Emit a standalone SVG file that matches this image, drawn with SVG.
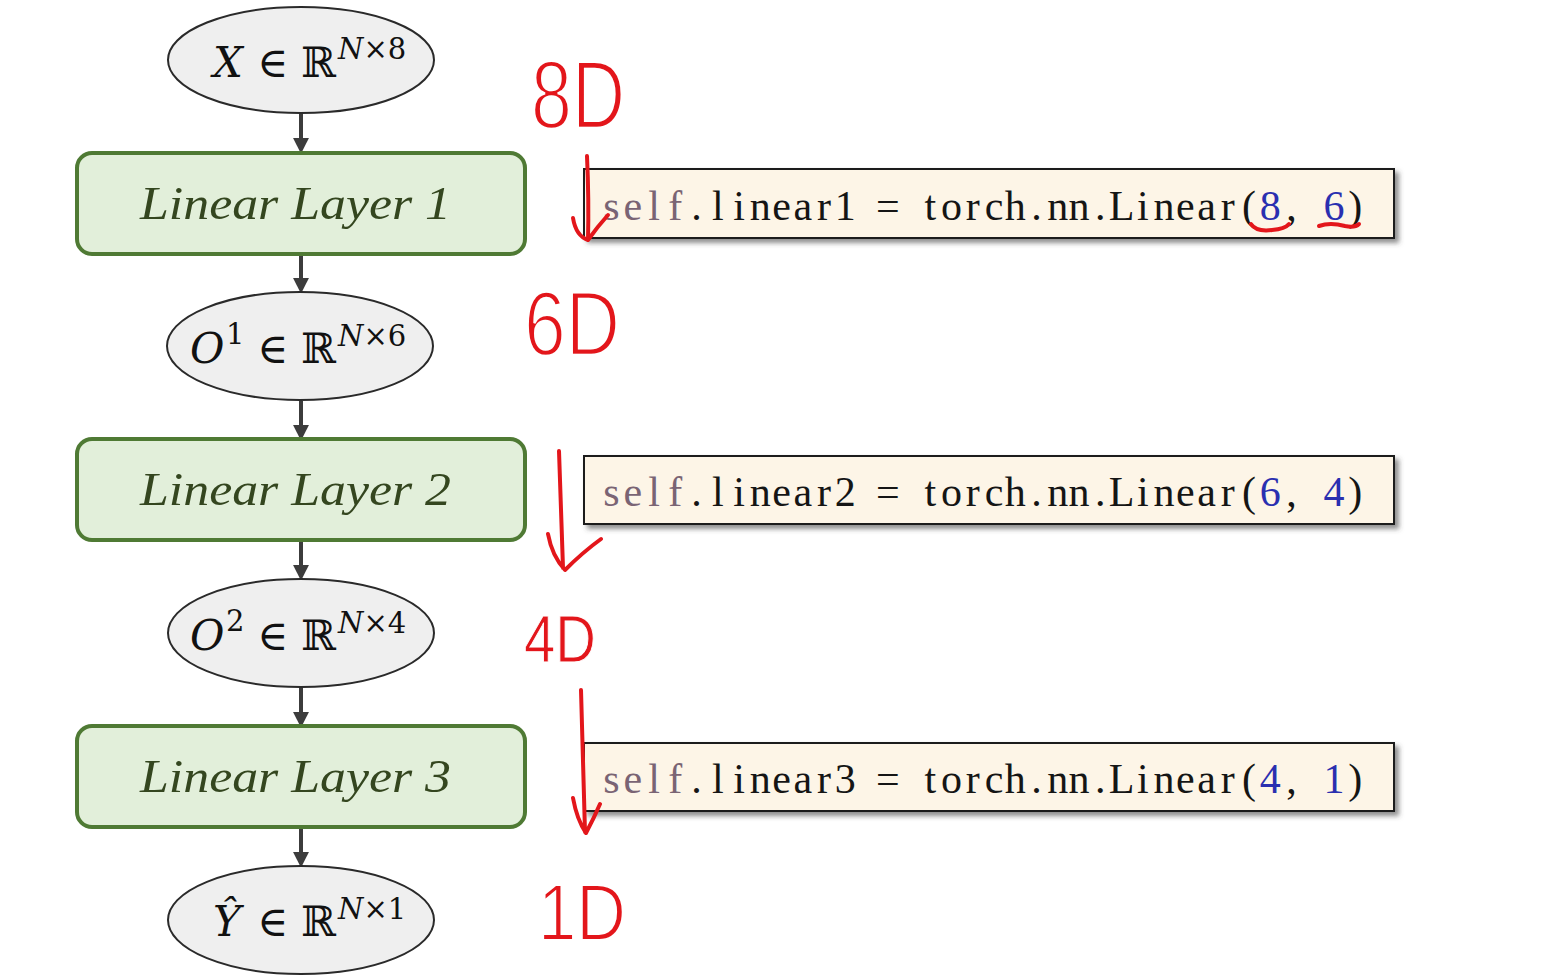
<svg xmlns="http://www.w3.org/2000/svg" width="1557" height="977" viewBox="0 0 1557 977">
<defs>
<style>
.ell{fill:#efefef;stroke:#2a2a2a;stroke-width:2}
.lay{fill:#e2efda;stroke:#4f7a34;stroke-width:4}
.layt{font-family:"Liberation Serif",serif;font-style:italic;font-size:46px;fill:#34461f}
.math{font-family:"DejaVu Serif",serif;font-size:42px;fill:#111}
.it{font-style:italic}
.sup{font-family:"DejaVu Serif",serif;font-size:29px;fill:#111}
.code{fill:#fdf5e7;stroke:#1e1e1e;stroke-width:2}
.ct{font-family:"Liberation Serif",serif;font-size:42px;fill:#151515;text-anchor:middle}
.slf{fill:#7a6474}
.num{fill:#2a2fb0}
.conn{stroke:#3c3c3c;stroke-width:4;fill:none}
.red{fill:#e3161b;stroke:#ffffff;font-family:"Liberation Sans",sans-serif}
.rs{stroke:#e3161b;stroke-width:4;fill:none;stroke-linecap:round;stroke-linejoin:round}
</style>
<marker id="ah" markerUnits="userSpaceOnUse" markerWidth="16" markerHeight="16" viewBox="0 0 14 14" refX="1" refY="7" orient="auto">
<path d="M0,0 L14,7 L0,14 z" fill="#3c3c3c"/>
</marker>
<filter id="sh" x="-5%" y="-20%" width="110%" height="150%">
<feDropShadow dx="4" dy="4" stdDeviation="2.5" flood-color="#444" flood-opacity="0.6"/>
</filter>
</defs>
<rect width="1557" height="977" fill="#ffffff"/>

<g id="connectors">
<line class="conn" x1="301" y1="113" x2="301" y2="139" marker-end="url(#ah)"/>
<line class="conn" x1="301" y1="254" x2="301" y2="279" marker-end="url(#ah)"/>
<line class="conn" x1="301" y1="401" x2="301" y2="426" marker-end="url(#ah)"/>
<line class="conn" x1="301" y1="540" x2="301" y2="566" marker-end="url(#ah)"/>
<line class="conn" x1="301" y1="688" x2="301" y2="713" marker-end="url(#ah)"/>
<line class="conn" x1="301" y1="827" x2="301" y2="853" marker-end="url(#ah)"/>
</g>

<g id="x">
<ellipse class="ell" cx="301" cy="60" rx="133" ry="53"/>
<text class="math it" x="213" y="77">X</text>
<text class="math" x="257" y="77">∈</text>
<text class="math" x="301" y="77">ℝ</text>
<text class="sup" x="338" y="59"><tspan class="it">N</tspan>×8</text>
</g>

<g id="layer1">
<rect class="lay" x="77" y="153" width="448" height="101" rx="15"/>
<text class="layt" x="140" y="219" textLength="311" lengthAdjust="spacingAndGlyphs">Linear Layer 1</text>
</g>

<g id="o1">
<ellipse class="ell" cx="300" cy="346" rx="133" ry="54"/>
<text class="math it" x="190" y="363">O</text>
<text class="sup" x="226" y="344">1</text>
<text class="math" x="257" y="363">∈</text>
<text class="math" x="301" y="363">ℝ</text>
<text class="sup" x="338" y="346"><tspan class="it">N</tspan>×6</text>
</g>

<g id="layer2">
<rect class="lay" x="77" y="439" width="448" height="101" rx="15"/>
<text class="layt" x="140" y="505" textLength="311" lengthAdjust="spacingAndGlyphs">Linear Layer 2</text>
</g>

<g id="o2">
<ellipse class="ell" cx="301" cy="633" rx="133" ry="54"/>
<text class="math it" x="190" y="650">O</text>
<text class="sup" x="226" y="631">2</text>
<text class="math" x="257" y="650">∈</text>
<text class="math" x="301" y="650">ℝ</text>
<text class="sup" x="338" y="633"><tspan class="it">N</tspan>×4</text>
</g>

<g id="layer3">
<rect class="lay" x="77" y="726" width="448" height="101" rx="15"/>
<text class="layt" x="140" y="792" textLength="311" lengthAdjust="spacingAndGlyphs">Linear Layer 3</text>
</g>

<g id="yhat">
<ellipse class="ell" cx="301" cy="920" rx="133" ry="54"/>
<text class="math it" x="213" y="936">Ŷ</text>
<text class="math" x="257" y="936">∈</text>
<text class="math" x="301" y="936">ℝ</text>
<text class="sup" x="338" y="919"><tspan class="it">N</tspan>×1</text>
</g>

<g id="code1">
<rect class="code" x="584" y="169" width="810" height="69" filter="url(#sh)"/>
<text class="ct" y="220"><tspan class="slf" x="611.5 632.75 654 675.25">self</tspan><tspan x="696.5 717.75 739 760.25 781.5 802.75 824 845.25">.linear1</tspan><tspan x="887.75">=</tspan><tspan x="930.25 951.5 972.75 994 1015.25 1036.5 1057.75 1079 1100.25 1121.5 1142.75 1164 1185.25 1206.5 1227.75 1249">torch.nn.Linear(</tspan><tspan class="num" x="1270.25">8</tspan><tspan x="1291.5">,</tspan><tspan class="num" x="1334">6</tspan><tspan x="1355.25">)</tspan></text>
</g>

<g id="code2">
<rect class="code" x="584" y="456" width="810" height="68" filter="url(#sh)"/>
<text class="ct" y="506"><tspan class="slf" x="611.5 632.75 654 675.25">self</tspan><tspan x="696.5 717.75 739 760.25 781.5 802.75 824 845.25">.linear2</tspan><tspan x="887.75">=</tspan><tspan x="930.25 951.5 972.75 994 1015.25 1036.5 1057.75 1079 1100.25 1121.5 1142.75 1164 1185.25 1206.5 1227.75 1249">torch.nn.Linear(</tspan><tspan class="num" x="1270.25">6</tspan><tspan x="1291.5">,</tspan><tspan class="num" x="1334">4</tspan><tspan x="1355.25">)</tspan></text>
</g>

<g id="code3">
<rect class="code" x="584" y="743" width="810" height="68" filter="url(#sh)"/>
<text class="ct" y="793"><tspan class="slf" x="611.5 632.75 654 675.25">self</tspan><tspan x="696.5 717.75 739 760.25 781.5 802.75 824 845.25">.linear3</tspan><tspan x="887.75">=</tspan><tspan x="930.25 951.5 972.75 994 1015.25 1036.5 1057.75 1079 1100.25 1121.5 1142.75 1164 1185.25 1206.5 1227.75 1249">torch.nn.Linear(</tspan><tspan class="num" x="1270.25">4</tspan><tspan x="1291.5">,</tspan><tspan class="num" x="1334">1</tspan><tspan x="1355.25">)</tspan></text>
</g>

<g id="annotations">
<text class="red" x="531" y="128" font-size="96" stroke-width="2.5" textLength="94" lengthAdjust="spacingAndGlyphs">8D</text>
<text class="red" x="524" y="355" font-size="90" stroke-width="2.5" textLength="96" lengthAdjust="spacingAndGlyphs">6D</text>
<text class="red" x="524" y="662" font-size="66" stroke-width="1" textLength="72" lengthAdjust="spacingAndGlyphs">4D</text>
<text class="red" x="538" y="940" font-size="80" stroke-width="2" textLength="88" lengthAdjust="spacingAndGlyphs">1D</text>
<path class="rs" d="M587,156 Q589,200 588,240 M573,218 Q576,236 588,240 Q598,226 608,215"/>
<path class="rs" d="M559,451 Q561,510 563,568 M548,534 Q552,556 565,570 Q583,552 601,539"/>
<path class="rs" d="M581,690 Q583,760 585,832 M573,798 Q577,820 586,833 Q594,818 600,804"/>
<path class="rs" d="M1251,224 Q1256,232 1272,230 Q1285,229 1289,224"/>
<path class="rs" d="M1319,226 Q1330,222 1345,226 Q1355,228 1359,224"/>
</g>
</svg>
